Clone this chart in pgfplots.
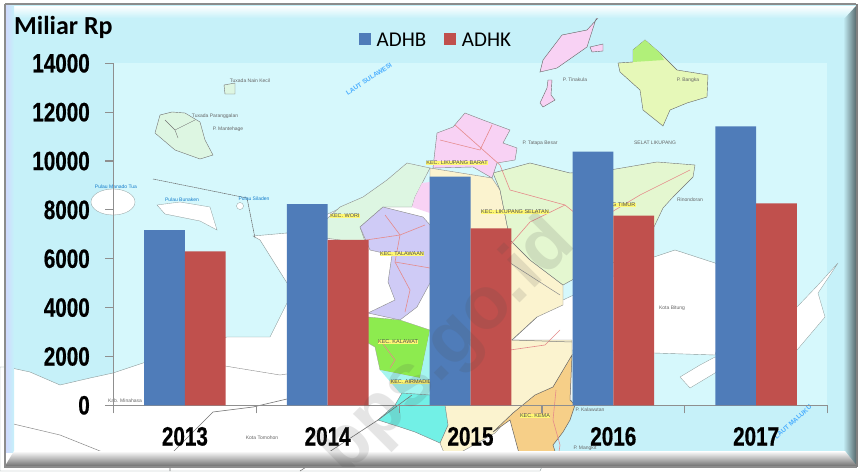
\documentclass[border=0pt]{standalone}
\usepackage{pgfplots}
\pgfplotsset{compat=1.18}
\usepackage{fontspec}
\setmainfont{Carlito}
\newfontfamily\narrowb[FakeStretch=0.78,FakeBold=0.6]{Liberation Sans Bold}
\newfontfamily\mapf{Liberation Sans}
\newfontfamily\wmf{Liberation Sans Bold}
\definecolor{sea}{HTML}{C6F1F9}
\definecolor{sealight}{HTML}{D6F8FC}
\definecolor{barb}{HTML}{4F7CB9}
\definecolor{barr}{HTML}{C0504D}
\definecolor{axg}{HTML}{8F8F8F}
\definecolor{coast}{HTML}{8A9A9A}
\definecolor{road}{HTML}{E58A8A}
\definecolor{mpink}{HTML}{F8D2F4}
\definecolor{mlime}{HTML}{E6F8B8}
\definecolor{mcoast}{HTML}{DDF6E2}
\definecolor{mtimur}{HTML}{E4F7D0}
\definecolor{mbeige}{HTML}{FBF3CF}
\definecolor{mlav}{HTML}{CFCBF6}
\definecolor{mgreen}{HTML}{8DEB4F}
\definecolor{mcyan}{HTML}{A5F5F0}
\definecolor{mcyand}{HTML}{72F0E6}
\definecolor{morange}{HTML}{F6CF88}
\pgfplotstableread{
x v
0 7176
1 8240
2 9358
3 10380
4 11420
}\adhb
\pgfplotstableread{
x v
0 6304
1 6770
2 7245
3 7760
4 8270
}\adhk
\tikzset{maplab/.style={font=\mapf\fontsize{5}{6}\selectfont,text=black!60,inner sep=0.5pt},
kec/.style={font=\mapf\fontsize{5.5}{6}\selectfont,text=black!70,fill=yellow!55,inner sep=0.5pt},
sealab/.style={font=\mapf\bfseries\fontsize{6.5}{7}\selectfont,text=blue!45!cyan!70,inner sep=0}}
\begin{document}
\begin{tikzpicture}
\useasboundingbox (0pt,0pt) rectangle (859pt,-471pt);
\begin{scope}[x=1pt,y=-1pt]
\clip (0,0) rectangle (859,471);
\fill[white] (0,0) rectangle (859,471);
\fill[sea] (5,4) rectangle (856,466);
\fill[sealight] (113,63) rectangle (827,406);
% southern mainland
\fill[white,draw=coast,line width=.4pt] (0,367) -- (7,367) -- (30,372) -- (60,385) -- (90,378) -- (113,373) -- (143,363) -- (180,350) -- (227,337) -- (270,337) -- (287,303) -- (287,283) -- (260,240) -- (253,236) -- (287,233) -- (345,206) -- (430,200) -- (563,300) -- (654,257) -- (675,250) -- (715,263) -- (740,280) -- (715,355) -- (654,353) -- (600,350) -- (572,350) -- (572,400) -- (540,471) -- (0,471) -- cycle;
\fill[white,draw=coast,line width=.3pt] (680,377) -- (700,365) -- (715,357) -- (725,360) -- (715,373) -- (690,388) -- cycle;
\fill[white,draw=coast,line width=.3pt] (838,263) -- (822,287) -- (818,293) -- (825,317) -- (797,350) -- (780,352) -- (770,320) -- (797,307) -- (818,285) -- cycle;
% islands west
\fill[white,draw=coast,line width=.3pt] (113,202) ellipse (22pt and 13pt);
\fill[white,draw=coast,line width=.3pt] (157,205) -- (180,202) -- (210,207) -- (217,230) -- (200,221) -- (165,214) -- cycle;
\fill[white,draw=coast,line width=.3pt] (240,206) circle (3.5pt);
\fill[mcoast,draw=black!55,line width=.4pt] (155,133) -- (160,115) -- (172,112) -- (185,113) -- (200,122) -- (205,140) -- (213,155) -- (200,159) -- (175,150) -- cycle;
\draw[black!55,line width=.4pt] (165,120) -- (175,130) -- (195,120) (175,130) -- (178,138);
\fill[mcoast,draw=black!55,line width=.4pt] (224,85) -- (235,83) -- (235,94) -- (225,94) -- cycle;
\draw[black!60,line width=.5pt,dash pattern=on 1.5pt off .5pt] (153,179) -- (247,198) -- (255,238);
% north islands
\fill[mpink,draw=black!60,line width=.4pt] (600,8) -- (598,18) -- (587,30) -- (562,35) -- (543,60) -- (540,72) -- (557,68) -- (587,47) -- (595,22) -- cycle;
\fill[mpink,draw=black!60,line width=.4pt] (590,47) -- (603,44) -- (603,51) -- (592,52) -- cycle;
\fill[mpink,draw=black!60,line width=.4pt] (548,80) -- (552,80) -- (551,95) -- (555,100) -- (543,107) -- (540,103) -- (547,88) -- cycle;
\fill[mlime,draw=black!60,line width=.4pt] (618,63) -- (633,62) -- (633,50) -- (645,40) -- (660,53) -- (677,70) -- (708,75) -- (707,97) -- (687,103) -- (670,110) -- (663,126) -- (643,110) -- (640,90) -- (620,72) -- cycle;
\fill[mgreen!60!mlime] (633,62) -- (633,50) -- (645,40) -- (660,53) -- (664,60) -- cycle;
% north coast
\fill[mcoast,draw=black!45,line width=.4pt] (287,233) -- (320,225) -- (340,207) -- (363,197) -- (387,180) -- (407,163) -- (430,168) -- (415,197) -- (412,207) -- (383,207) -- (360,227) -- (368,250) -- (340,240) -- cycle;
% Likupang Selatan
\fill[mbeige,draw=black!45,line width=.4pt] (430,168) -- (492,178) -- (500,190) -- (510,240) -- (530,260) -- (563,285) -- (563,305) -- (537,317) -- (512,340) -- (430,340) -- cycle;
\fill[mbeige,draw=black!45,line width=.4pt] (512,340) -- (572,340) -- (572,357) -- (553,387) -- (513,413) -- (495,433) -- (447,460) -- (440,443) -- (448,425) -- (430,372) -- (430,340) -- cycle;
% Likupang Timur
\fill[mtimur,draw=black!55,line width=.4pt] (493,173) -- (530,163) -- (570,173) -- (610,170) -- (657,162) -- (695,165) -- (693,177) -- (673,197) -- (663,208) -- (654,227) -- (654,250) -- (590,270) -- (563,285) -- (530,260) -- (510,240) -- (500,190) -- cycle;
% Likupang Barat
\fill[mpink,draw=black!50,line width=.4pt] (437,133) -- (453,127) -- (465,113) -- (483,120) -- (510,130) -- (503,143) -- (517,148) -- (515,160) -- (497,163) -- (492,178) -- (473,167) -- (433,168) -- (435,150) -- cycle;
\fill[mpink] (415,197) -- (422,183) -- (430,182) -- (430,213) -- (412,207) -- cycle;
% Talawaan
\fill[mlav,draw=black!45,line width=.4pt] (360,227) -- (383,207) -- (423,217) -- (430,225) -- (430,283) -- (417,307) -- (400,320) -- (368,313) -- (395,300) -- (388,282) -- (392,255) -- (370,250) -- cycle;
% Kalawat
\fill[mgreen,draw=black!40,line width=.3pt] (368,317) -- (400,320) -- (430,330) -- (420,378) -- (380,370) -- (375,347) -- (368,343) -- cycle;
\fill[mcyan] (380,370) -- (420,378) -- (430,330) -- (445,330) -- (440,372) -- (430,400) -- (400,393) -- cycle;
% cyan south
\fill[mcyand,draw=black!50,line width=.4pt] (378,420) -- (395,405) -- (402,393) -- (430,395) -- (445,405) -- (448,425) -- (440,443) -- (415,432) -- (400,427) -- cycle;
% Kema
\fill[morange,draw=black!60,line width=.5pt] (572,355) -- (570,400) -- (575,405) -- (570,420) -- (563,432) -- (553,445) -- (560,467) -- (520,457) -- (510,420) -- (493,432) -- (513,413) -- (535,395) -- (553,387) -- cycle;
% roads
\draw[road,line width=.6pt] (385,215) -- (400,235) -- (395,262) -- (410,290) -- (405,312);
\draw[road,line width=.6pt] (366,240) -- (400,235) -- (425,225);
\draw[road,line width=.6pt] (395,262) -- (430,268);
\draw[road,line width=.6pt] (510,245) -- (530,222) -- (565,205) -- (590,225) -- (640,195) -- (690,170);
\draw[road,line width=.6pt] (455,125) -- (500,165) -- (510,190) -- (565,205);
\draw[road,line width=.6pt] (440,140) -- (480,150) -- (492,125);
\draw[road,line width=.6pt] (510,350) -- (545,345) -- (560,330);
\draw[road,line width=.6pt] (556,390) -- (553,420) -- (560,445) -- (557,465);
\draw[road,line width=.6pt] (380,340) -- (395,360) -- (390,368);
\draw[black!50,line width=.5pt] (512,340) -- (537,317);
\draw[black!50,line width=.5pt] (512,340) -- (572,342);
\draw[black!55,line width=.6pt] (300,471) -- (378,420) -- (412,395);
\draw[black!55,line width=.6pt] (170,471) -- (170,455) -- (213,412) -- (253,407) -- (287,399);
\draw[black!45,line width=.5pt] (5,422) -- (60,435) -- (135,465);
\draw[black!45,line width=.4pt] (225,366) -- (280,375) -- (300,372);
\draw[black!45,line width=.5pt] (490,250) -- (560,295);
% map labels
\node[sealab,rotate=33] at (369,79) {LAUT SULAWESI};
\node[sealab,rotate=42] at (793,422) {LAUT MALUKU};
\node[maplab] at (672,308) {Kota Bitung};
\node[maplab] at (262,438) {Kota Tomohon};
\node[maplab] at (58,458) {Kab. Minahasa Selatan};
\node[maplab] at (125,401) {Kab. Minahasa};
\node[maplab,text=cyan!60!blue] at (116,187) {Pulau Manado Tua};
\node[maplab,text=cyan!60!blue] at (182,200) {Pulau Bunaken};
\node[maplab,text=cyan!60!blue] at (254,199) {Pulau Siladen};
\node[maplab] at (250,81) {Tuxada Nain Kecil};
\node[maplab] at (215,116) {Tuxada Paranggalan};
\node[maplab] at (228,129) {P. Mantehage};
\node[maplab] at (575,80) {P. Tinakula};
\node[maplab] at (688,80) {P. Bangka};
\node[maplab] at (655,143) {SELAT LIKUPANG};
\node[maplab] at (540,143) {P. Tatapa Besar};
\node[maplab] at (690,200) {Rinondoran};
\node[maplab] at (590,410) {P. Kalawutan};
\node[maplab] at (585,448) {P. Mangkit};
\node[kec] at (345,216) {KEC. WORI};
\node[kec] at (402,254) {KEC. TALAWAAN};
\node[kec] at (398,342) {KEC. KALAWAT};
\node[kec] at (412,382) {KEC. AIRMADIDI};
\node[kec] at (457,163) {KEC. LIKUPANG BARAT};
\node[kec] at (515,212) {KEC. LIKUPANG SELATAN};
\node[kec] at (605,205) {KEC. LIKUPANG TIMUR};
\node[kec] at (535,416) {KEC. KEMA};
% frame
\shade[top color=white,bottom color=sea] (5,6) -- (856,6) -- (845,18) -- (14,18) -- cycle;
\shade[left color=sea,right color=black!55!sea] (843,18) -- (845,18) -- (856,6) -- (856,466) -- (845,456) -- (843,456) -- cycle;
\shade[left color=sea!50!blue!30,right color=sea] (5,4) rectangle (14,452);
\shade[top color=white,bottom color=black!55] (5,466) -- (857,466) -- (845,451) -- (14,451) -- cycle;
\draw[black!45,line width=1.4pt] (5,4) -- (856,4);
\draw[black!45,line width=1.4pt] (5,4) -- (5,467) -- (857,467);
\draw[black!50,line width=1.6pt] (857,4) -- (857,467);
\end{scope}
\begin{axis}[
  at={(113.5pt,-405.3pt)},anchor=south west,
  scale only axis,width=714pt,height=342pt,
  xmin=-0.5,xmax=4.5,ymin=0,ymax=14000,
  axis lines=left,axis line style={draw=axg,line width=1.3pt,-},
  ybar=0pt,bar width=40.8pt,
  xtick={0,1,2,3,4},xticklabels={2013,2014,2015,2016,2017},
  minor xtick={-0.5,0.5,1.5,2.5,3.5,4.5},
  ytick={0,2000,...,14000},
  tick align=outside,
  major tick length=8pt,minor tick length=8pt,
  major x tick style={draw=none},
  minor x tick style={draw=axg,line width=1.2pt},
  major y tick style={draw=axg,line width=1.2pt},
  scaled y ticks=false,
  /pgf/number format/assume math mode=true,
  /pgf/number format/.cd,use comma=false,1000 sep={},/pgfplots/.cd,
  tick label style={font=\narrowb\fontsize{26.5}{27}\selectfont,text=black},
  yticklabel style={inner sep=0pt,xshift=-15.5pt},
  xticklabel style={inner sep=0pt,yshift=-14pt,text height=18pt},
  legend style={at={(0.4517,1.068)},anchor=center,draw=none,fill=none,legend columns=2,
    font=\fontsize{21}{22}\selectfont,
    /tikz/every odd column/.append style={column sep=4pt},
    /tikz/every even column/.append style={column sep=16pt}},
  legend cell align=left,
  legend image code/.code={\fill[#1] (0pt,-5pt) rectangle (11.7pt,6.7pt);},
  clip=false,
]
\addplot[fill=barb,draw=none] table[x=x,y=v]{\adhb};
\addlegendentry{ADHB}
\addplot[fill=barr,draw=none] table[x=x,y=v]{\adhk};
\addlegendentry{ADHK}
\end{axis}
\begin{scope}[x=1pt,y=-1pt]
\clip (5,4) rectangle (856,466);
\node[font=\wmf\fontsize{74}{74}\selectfont,text=black!70,text opacity=0.14,rotate=45,inner sep=0,anchor=base west] at (345,478) {bps.go.id};
\node[anchor=base west,inner sep=0,font=\bfseries\fontsize{26}{26}\selectfont] at (14,34) {Miliar Rp};
\end{scope}
\end{tikzpicture}
\end{document}
